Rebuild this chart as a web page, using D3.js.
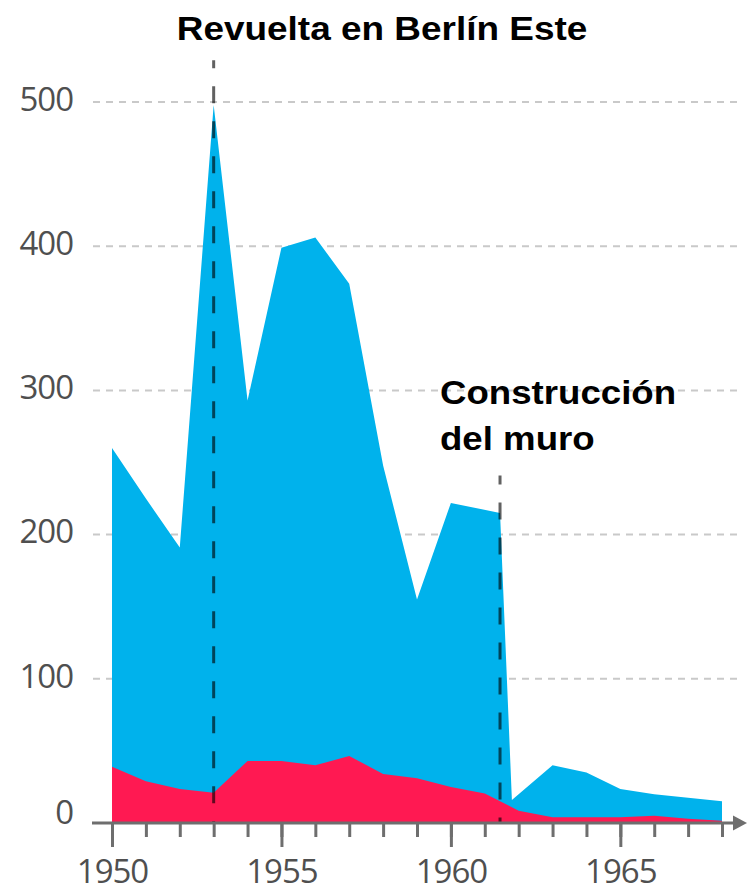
<!DOCTYPE html>
<html>
<head>
<meta charset="utf-8">
<script src="https://cdn.jsdelivr.net/npm/d3@7"></script>
<style>
  html, body { margin: 0; padding: 0; background: #fff; }
  svg { display: block; }
</style>
</head>
<body>
<svg id="chart" width="750" height="894"></svg>
<script>
// Total per year (thousands) and the part shown in red
const totalYears  = [1950, 1951, 1952, 1953, 1954, 1955, 1956, 1957, 1958, 1959, 1960, 1961.45, 1961.8, 1963, 1964, 1965, 1966, 1967, 1968];
const totalValues = [260, 225, 191, 498, 293, 399, 406, 374, 248, 155, 222, 215, 16, 40, 35, 23.5, 20, 17.5, 15];

const redYears  = [1950, 1951, 1952, 1953, 1954, 1955, 1956, 1957, 1958, 1959, 1960, 1961, 1962, 1963, 1964, 1965, 1966, 1967, 1968];
const redValues = [39, 29, 23.5, 21, 43, 43, 40, 46.5, 34, 31, 25, 20.5, 8.5, 4, 4, 4, 5, 3, 1.5];

const yTicks = [0, 100, 200, 300, 400, 500];
const xMajorTicks = [1950, 1955, 1960, 1965];
const xMinorTicks = d3.range(1950, 1969);

// Event markers: year and upper end of the dashed line (value units)
const eventNames = ["Revuelta en Berlín Este", "Construcción del muro"];
const eventYears = [1953, 1961.45];
const eventTops  = [529, 241];

const svg = d3.select("#chart");

const x = d3.scaleLinear().domain([1950, 1968]).range([112, 722]);
const y = d3.scaleLinear().domain([0, 500]).range([823, 102]);

const labelFont = "'Open Sans', 'Noto Sans', sans-serif";
const titleFont = "'Liberation Sans', Arial, sans-serif";
const labelColor = "#4f4f4f";

// Horizontal dashed gridlines
svg.append("g")
  .selectAll("line")
  .data(yTicks.filter(d => d > 0))
  .join("line")
  .attr("x1", 93).attr("x2", 740)
  .attr("y1", d => y(d)).attr("y2", d => y(d))
  .attr("stroke", "#c9c9c9")
  .attr("stroke-width", 2)
  .attr("stroke-dasharray", "7,6");

// Y labels
svg.append("g")
  .selectAll("text")
  .data(yTicks)
  .join("text")
  .attr("x", 73)
  .attr("y", d => d === 0 ? y(d) - 11 : y(d) - 3)
  .attr("dy", "0.36em")
  .attr("text-anchor", "end")
  .attr("font-family", labelFont)
  .attr("font-size", 33)
  .attr("letter-spacing", "-1")
  .attr("fill", labelColor)
  .text(d => d);

// Areas
const totalData = totalYears.map((t, i) => ({ t, v: totalValues[i] }));
const redData = redYears.map((t, i) => ({ t, v: redValues[i] }));

const area = d3.area()
  .x(d => x(d.t))
  .y0(y(0))
  .y1(d => y(d.v));

svg.append("path")
  .datum(totalData)
  .attr("d", area)
  .attr("fill", "#00b2ec");

svg.append("path")
  .datum(redData)
  .attr("d", area)
  .attr("fill", "#ff1952");

// Event dashed lines
const events = eventYears.map((t, i) => ({ t, top: eventTops[i], name: eventNames[i] }));
svg.append("g")
  .selectAll("line")
  .data(events)
  .join("line")
  .attr("x1", d => x(d.t)).attr("x2", d => x(d.t))
  .attr("y1", d => y(d.top)).attr("y2", y(0))
  .attr("stroke", "rgba(0,0,0,0.62)")
  .attr("stroke-width", 3)
  .attr("stroke-dasharray", "17,18")
  .attr("stroke-dashoffset", (d, i) => i === 0 ? 9 : 8);

// X axis: minor and major ticks
const axisG = svg.append("g").attr("transform", `translate(0,${y(0)})`);

axisG.append("g")
  .call(d3.axisBottom(x).tickValues(xMinorTicks).tickSize(14).tickFormat(""))
  .call(g => g.select(".domain").remove())
  .call(g => g.selectAll(".tick line").attr("stroke", "#6e6e6e").attr("stroke-width", 3));

axisG.append("g")
  .call(d3.axisBottom(x).tickValues(xMajorTicks).tickSize(24).tickPadding(13).tickFormat(d3.format("d")))
  .call(g => g.select(".domain").remove())
  .call(g => g.selectAll(".tick line").attr("stroke", "#6e6e6e").attr("stroke-width", 3))
  .call(g => g.selectAll(".tick text")
    .attr("font-family", labelFont)
    .attr("font-size", 33)
    .attr("letter-spacing", "-1")
    .attr("fill", labelColor));

// Axis line with arrow head
axisG.append("line")
  .attr("x1", 92).attr("x2", 736)
  .attr("y1", 0).attr("y2", 0)
  .attr("stroke", "#6e6e6e")
  .attr("stroke-width", 3);
axisG.append("path")
  .attr("d", "M733,-7.5 L747,0 L733,7.5 Z")
  .attr("fill", "#6e6e6e");

// Annotation texts
svg.append("text")
  .attr("transform", "translate(382,40) scale(1.12,1)")
  .attr("text-anchor", "middle")
  .attr("font-family", titleFont)
  .attr("font-weight", "bold")
  .attr("font-size", 33)
  .attr("fill", "#000")
  .text(eventNames[0]);

const wallText = svg.append("text")
  .attr("transform", "translate(440,404) scale(1.11,1)")
  .attr("font-family", titleFont)
  .attr("font-weight", "bold")
  .attr("font-size", 33)
  .attr("fill", "#000");
wallText.append("tspan").attr("x", 0).attr("y", 0).text("Construcción");
wallText.append("tspan").attr("x", 0).attr("y", 46).text("del muro");
</script>
</body>
</html>
